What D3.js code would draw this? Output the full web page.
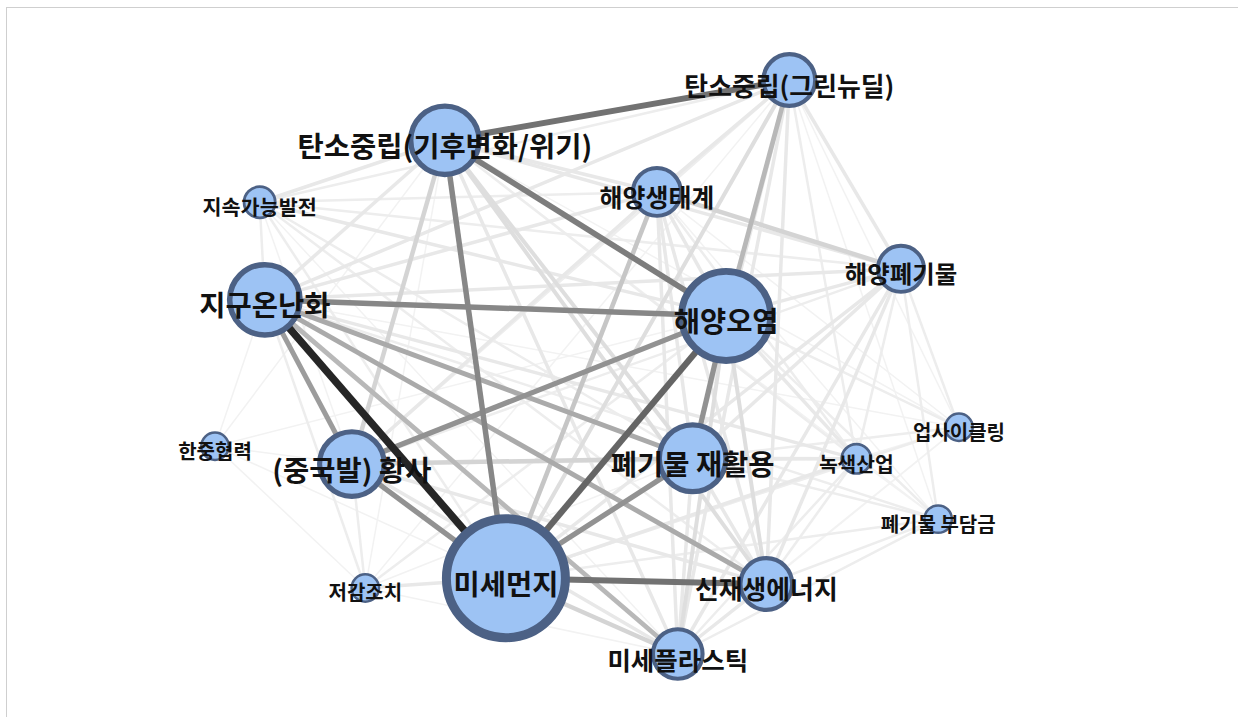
<!DOCTYPE html>
<html>
<head>
<meta charset="utf-8">
<script src="https://cdn.jsdelivr.net/npm/d3@7"></script>
<style>
  body { margin: 0; background: #fff; }
  svg { display: block; }
</style>
</head>
<body>
<svg id="chart" width="1238" height="717"></svg>
<script>
// keyword nodes
const nodeNames = [
  "탄소중립(기후변화/위기)", "탄소중립(그린뉴딜)", "해양생태계", "지속가능발전",
  "해양폐기물", "지구온난화", "해양오염", "한중협력", "(중국발) 황사",
  "폐기물 재활용", "녹색산업", "업사이클링", "폐기물 부담금", "미세먼지",
  "저감조치", "신재생에너지", "미세플라스틱"
];
// frequency (drives circle size)
const nodeFreq = [85, 49, 42, 18, 39, 90, 144, 14, 76, 81, 16, 14, 14, 256, 14, 49, 45];
// layout coordinates (0-100 layout units)
const layoutX = [30.9, 77.2, 59.4, 6.0, 92.2, 6.7, 68.7, 0, 18.4, 64.2, 86.2, 100, 97.2, 39.1, 20.2, 74.1, 62.2];
const layoutY = [10.5, 0, 19.5, 21.3, 32.9, 38.3, 41.1, 63.8, 66.9, 65.9, 66.0, 60.5, 76.5, 86.8, 88.5, 87.8, 100];

// co-occurrence links: [source, target, weight]
const links = [
  [0,1,7],[0,2,2],[0,3,2],[0,4,2],[0,5,2],[0,6,6.5],[0,7,1],[0,8,3],[0,9,2.5],[0,10,1.5],
  [0,11,1],[0,12,1],[0,13,6],[0,14,1],[0,15,2.5],[0,16,2],
  [1,2,2],[1,3,1.5],[1,4,2],[1,5,2],[1,6,4],[1,8,1.5],[1,9,2],[1,10,1.5],[1,11,1],
  [1,12,1],[1,13,2.5],[1,14,1],[1,15,2],[1,16,2],
  [2,3,1.5],[2,4,3],[2,5,2],[2,6,2],[2,8,2],[2,9,2],[2,10,1.5],[2,11,1],[2,12,1],
  [2,13,3.5],[2,15,2],[2,16,2],
  [3,4,1.5],[3,5,1.5],[3,6,2],[3,8,1],[3,9,1.5],[3,13,1.5],[3,15,1.5],[3,16,1],
  [4,5,2],[4,6,2],[4,8,1.5],[4,9,2],[4,10,1.5],[4,11,1.5],[4,12,1.5],[4,13,2],[4,15,2],[4,16,2],
  [5,6,6],[5,7,1],[5,8,5],[5,9,4.5],[5,10,2],[5,11,1],[5,12,1.5],[5,13,10],[5,14,1.5],
  [5,15,4.5],[5,16,4],
  [6,7,1],[6,8,5.5],[6,9,5.5],[6,10,2],[6,11,1.5],[6,12,1.5],[6,13,7.5],[6,14,1.5],
  [6,15,2.5],[6,16,2.5],
  [7,8,1],[7,13,1],[7,14,1],
  [8,9,3],[8,10,1.5],[8,13,5.5],[8,14,1.5],[8,15,2],[8,16,2],
  [9,10,2],[9,11,1.5],[9,12,1.5],[9,13,5.5],[9,14,1],[9,15,2],[9,16,2],
  [10,11,1],[10,12,1],[10,13,2],[10,15,1.5],[10,16,1.5],
  [11,13,1.5],[11,15,1],[11,16,1],
  [12,13,1.5],[12,15,1.5],[12,16,1.5],
  [13,14,2],[13,15,7],[13,16,3],
  [14,16,1],
  [15,16,2]
];

const svg = d3.select("#chart");

// page frame
svg.append("rect")
  .attr("x", 6.5).attr("y", 7.5)
  .attr("width", 1250).attr("height", 730)
  .attr("fill", "none")
  .attr("stroke", "#cfcfcf");

const x = d3.scaleLinear().domain([0, 100]).range([215, 959]);
const y = d3.scaleLinear().domain([0, 100]).range([80, 654]);
const radius = d3.scaleSqrt().domain([0, 256]).range([0, 64]);
const border = d3.scaleLinear().domain([15, 64]).range([2.5, 9]);
const fontSize = d3.scaleLinear().domain([14, 45, 76]).range([20, 25.5, 28.5]).clamp(true);

const edgeColor = d3.scaleLinear()
  .domain([1, 2, 3, 5, 7, 10])
  .range(["#f2f2f2", "#e8e8e8", "#d4d4d4", "#9c9c9c", "#727272", "#262626"]);
const edgeWidth = d3.scaleLinear()
  .domain([1, 2, 3, 5, 10])
  .range([1.5, 3.5, 4.5, 5, 7.5]);

const nodes = nodeNames.map((name, i) => ({
  name: name, freq: nodeFreq[i], x: x(layoutX[i]), y: y(layoutY[i])
}));

// lighter links first so strong ties stay on top
const sorted = links.slice().sort((a, b) => a[2] - b[2]);

svg.append("g")
  .selectAll("line")
  .data(sorted)
  .join("line")
  .attr("x1", d => nodes[d[0]].x)
  .attr("y1", d => nodes[d[0]].y)
  .attr("x2", d => nodes[d[1]].x)
  .attr("y2", d => nodes[d[1]].y)
  .attr("stroke", d => edgeColor(d[2]))
  .attr("stroke-width", d => edgeWidth(d[2]));

const g = svg.append("g")
  .selectAll("g")
  .data(nodes)
  .join("g")
  .attr("transform", d => `translate(${d.x},${d.y})`);

g.append("circle")
  .attr("r", d => radius(d.freq) - border(radius(d.freq)) / 2)
  .attr("fill", "#9dc3f4")
  .attr("stroke", "#4c6185")
  .attr("stroke-width", d => border(radius(d.freq)));

g.append("text")
  .attr("text-anchor", "middle")
  .attr("dominant-baseline", "central")
  .attr("dy", 4)
  .attr("font-family", "'Noto Sans CJK KR', 'Noto Sans', sans-serif")
  .attr("font-weight", 700)
  .attr("font-size", d => fontSize(d.freq))
  .attr("fill", "#111")
  .text(d => d.name);
</script>
</body>
</html>
